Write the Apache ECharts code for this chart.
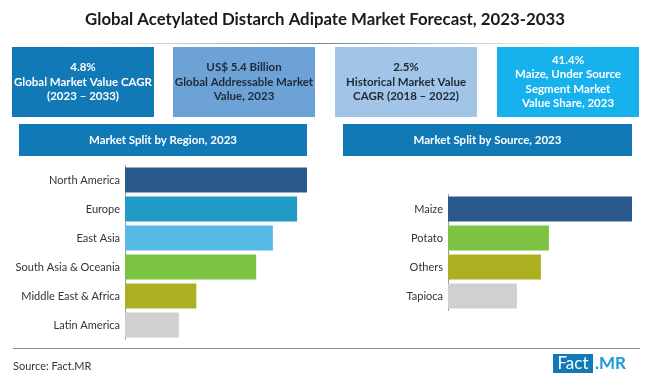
<!DOCTYPE html>
<html><head><meta charset="utf-8">
<script src="https://cdn.jsdelivr.net/npm/echarts@6/dist/echarts.min.js"></script>
<style>html,body{margin:0;padding:0;background:#fff}#c{width:650px;height:381px}</style>
</head><body><div id="c"></div>
<script>
const titleText = 'Global Acetylated Distarch Adipate Market Forecast, 2023-2033';
const kpiTexts = [
  '4.8%\nGlobal Market Value CAGR\n(2023 – 2033)',
  'US$ 5.4 Billion\nGlobal Addressable Market\nValue, 2023',
  '2.5%\nHistorical Market Value\nCAGR (2018 – 2022)',
  '41.4%\nMaize, Under Source\nSegment Market\nValue Share, 2023'
];
const regionHeader = 'Market Split by Region, 2023';
const sourceHeader = 'Market Split by Source, 2023';
const regionCats = ['North America','Europe','East Asia','South Asia & Oceania','Middle East & Africa','Latin America'];
const regionVals = [24.0, 22.7, 19.5, 17.3, 9.4, 7.1];
const sourceCats = ['Maize','Potato','Others','Tapioca'];
const sourceVals = [41.4, 22.7, 20.9, 15.5];
const sourceNote = 'Source: Fact.MR';

const regionColors = ['#2a5a8c','#229ac6','#58b9e6','#7cc243','#adaf22','#d0d0d0'];
const sourceColors = ['#2a5a8c','#7cc243','#adaf22','#d0d0d0'];
const kpiFill = ['#1079b6','#6da2d6','#a1c4e7','#17b1ed'];
const kpiTextColor = ['#ffffff','#1e2a36','#1e2a36','#ffffff'];
const FONT = 'Lato';

const chart = echarts.init(document.getElementById('c'), null, {renderer:'canvas'});

const boxX = [12, 173, 335, 497];
const graphics = [];
graphics.push({type:'text', x:325, y:20, style:{text:titleText, font:'bold 16.8px '+FONT, fill:'#1a1a1a', align:'center', verticalAlign:'middle'}});
graphics.push({type:'rect', shape:{x:60,y:43,width:530,height:1}, style:{fill:new echarts.graphic.LinearGradient(0,0,1,0,[{offset:0,color:'rgba(150,150,150,0)'},{offset:0.5,color:'rgba(130,130,130,1)'},{offset:1,color:'rgba(150,150,150,0)'}])}});
kpiTexts.forEach((t,i)=>{
  graphics.push({type:'rect', shape:{x:boxX[i], y:47, width:142, height:70}, style:{fill:kpiFill[i]}});
  graphics.push({type:'text', x:boxX[i]+71, y:82, style:{text:t, font:'bold 11.5px '+FONT, fill:kpiTextColor[i], align:'center', verticalAlign:'middle', lineHeight:14.5}});
});
[[19,288,regionHeader],[343,289,sourceHeader]].forEach(h=>{
  graphics.push({type:'rect', shape:{x:h[0], y:124, width:h[1], height:32}, style:{fill:'#1079b6'}});
  graphics.push({type:'text', x:h[0]+h[1]/2, y:140, style:{text:h[2], font:'bold 11.5px '+FONT, fill:'#fff', align:'center', verticalAlign:'middle'}});
});
graphics.push({type:'rect', shape:{x:13,y:348,width:627,height:1}, style:{fill:'#8c8c8c'}});
graphics.push({type:'text', x:13, y:366, style:{text:sourceNote, font:'11px '+FONT, fill:'#333', verticalAlign:'middle'}});
graphics.push({type:'rect', shape:{x:553,y:354,width:40,height:19}, style:{fill:'#1079b6'}});
graphics.push({type:'text', x:573, y:364, style:{text:'Fact', font:'17px '+FONT, fill:'#fff', align:'center', verticalAlign:'middle'}});
graphics.push({type:'text', x:595, y:364, style:{text:'.MR', font:'bold 17px '+FONT, fill:'#1b9ad7', verticalAlign:'middle'}});

const axisLabel = {fontFamily:FONT, fontSize:11, color:'#333', margin:5};
chart.setOption({
  animation:false,
  grid:[
    {left:125, top:165.5, width:182, height:174, containLabel:false},
    {left:448, top:194.5, width:184, height:116, containLabel:false}
  ],
  xAxis:[
    {gridIndex:0, type:'value', min:0, max:regionVals[0], show:false},
    {gridIndex:1, type:'value', min:0, max:sourceVals[0], show:false}
  ],
  yAxis:[
    {gridIndex:0, type:'category', data:regionCats, inverse:true, axisLine:{lineStyle:{color:'#999'}}, axisTick:{show:false}, axisLabel},
    {gridIndex:1, type:'category', data:sourceCats, inverse:true, axisLine:{lineStyle:{color:'#999'}}, axisTick:{show:false}, axisLabel}
  ],
  series:[
    {type:'bar', xAxisIndex:0, yAxisIndex:0, barWidth:25, data:regionVals.map((v,i)=>({value:v, itemStyle:{color:regionColors[i]}}))},
    {type:'bar', xAxisIndex:1, yAxisIndex:1, barWidth:25, data:sourceVals.map((v,i)=>({value:v, itemStyle:{color:sourceColors[i]}}))}
  ],
  graphic:graphics
});
</script></body></html>
